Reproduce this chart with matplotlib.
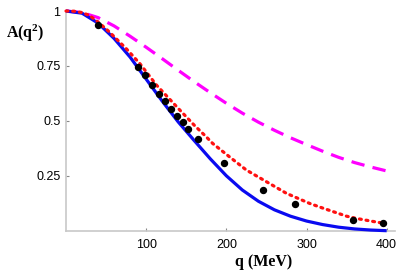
import matplotlib
matplotlib.use("Agg")
import matplotlib.pyplot as plt

plt.rcParams["mathtext.fontset"] = "custom"
plt.rcParams["mathtext.rm"] = "Liberation Serif:bold"
plt.rcParams["mathtext.bf"] = "Liberation Serif:bold"

# Data
blue_q = [0, 20, 40, 60, 80, 100, 120, 140, 160, 180, 200, 220, 240, 260, 280, 300, 320, 340, 360, 380, 400]
blue_A = [1.0, 0.99, 0.945, 0.875, 0.79, 0.69, 0.59, 0.495, 0.41, 0.327, 0.25, 0.185, 0.134, 0.095, 0.066, 0.044, 0.028, 0.016, 0.008, 0.003, 0.0]

red_q = [0, 10, 20, 29, 40, 54, 75, 92, 113, 142, 160, 175, 183, 204, 225, 250, 275, 304, 321, 350, 362, 380, 396]
red_A = [1.0, 0.999, 0.993, 0.98, 0.95, 0.905, 0.829, 0.761, 0.662, 0.549, 0.48, 0.427, 0.397, 0.336, 0.276, 0.223, 0.17, 0.124, 0.102, 0.066, 0.056, 0.044, 0.034]

mag_q = [0, 20, 40, 60, 80, 100, 120, 140, 160, 180, 200, 220, 240, 260, 280, 300, 320, 340, 360, 380, 400]
mag_A = [1.0, 0.993, 0.97, 0.932, 0.885, 0.835, 0.783, 0.73, 0.678, 0.628, 0.58, 0.535, 0.494, 0.457, 0.423, 0.392, 0.362, 0.334, 0.31, 0.29, 0.272]

pts_q = [40, 89.5, 98, 107, 116, 124, 131, 139, 146, 152.5, 165, 197, 245.5, 286, 358.5, 395]
pts_A = [0.935, 0.743, 0.708, 0.662, 0.62, 0.591, 0.553, 0.523, 0.493, 0.465, 0.417, 0.306, 0.187, 0.121, 0.049, 0.034]

x_ticks = [100, 200, 300, 400]
x_ticklabels = ["100", "200", "300", "400"]
y_ticks = [0.25, 0.5, 0.75, 1.0]
y_ticklabels = ["0.25", "0.5", "0.75", "1"]

W, H = 409, 277
fig = plt.figure(figsize=(W / 100, H / 100), dpi=100)
ax = fig.add_axes([66 / W, (H - 230.7) / H, (394.7 - 66) / W, (230.7 - 11) / H])

ax.plot(blue_q, blue_A, color="#0a0af0", lw=2.3, solid_capstyle="butt", clip_on=False, zorder=3)
ax.plot(red_q, red_A, color="#ff1010", lw=2.3, linestyle=(0, (0.6, 1.5)), dash_capstyle="round", clip_on=False, zorder=4)
ax.plot(mag_q, mag_A, color="#ff00ff", lw=2.3, linestyle=(0, (4.2, 2.6)), clip_on=False, zorder=2)
ax.plot(pts_q, pts_A, "o", color="black", ms=4.3, clip_on=False, zorder=5)

ax.set_xlim(0, 410)
ax.set_ylim(0, 1)
for s in ["top", "right"]:
    ax.spines[s].set_visible(False)
for s in ["left", "bottom"]:
    ax.spines[s].set_color("#c8c8c8")
    ax.spines[s].set_linewidth(1.2)

ax.set_xticks(x_ticks)
ax.set_xticklabels(x_ticklabels)
ax.set_yticks(y_ticks)
ax.set_yticklabels(y_ticklabels)
ax.tick_params(direction="in", length=2.5, width=0.8, color="#888888", labelsize=9, pad=4)
ax.tick_params(axis="x", pad=6)
for lab in ax.get_xticklabels() + ax.get_yticklabels():
    lab.set_family("Liberation Sans")

fig.text(25 / W, 1 - 33 / H, r"$\mathrm{A(q^{2})}$", ha="center", va="center",
         fontsize=11.5)
fig.text(264 / W, 1 - 262 / H, "q (MeV)", ha="center", va="center",
         fontsize=11.5, fontweight="bold", family="Liberation Serif")

fig.savefig("out.png", dpi=100)
